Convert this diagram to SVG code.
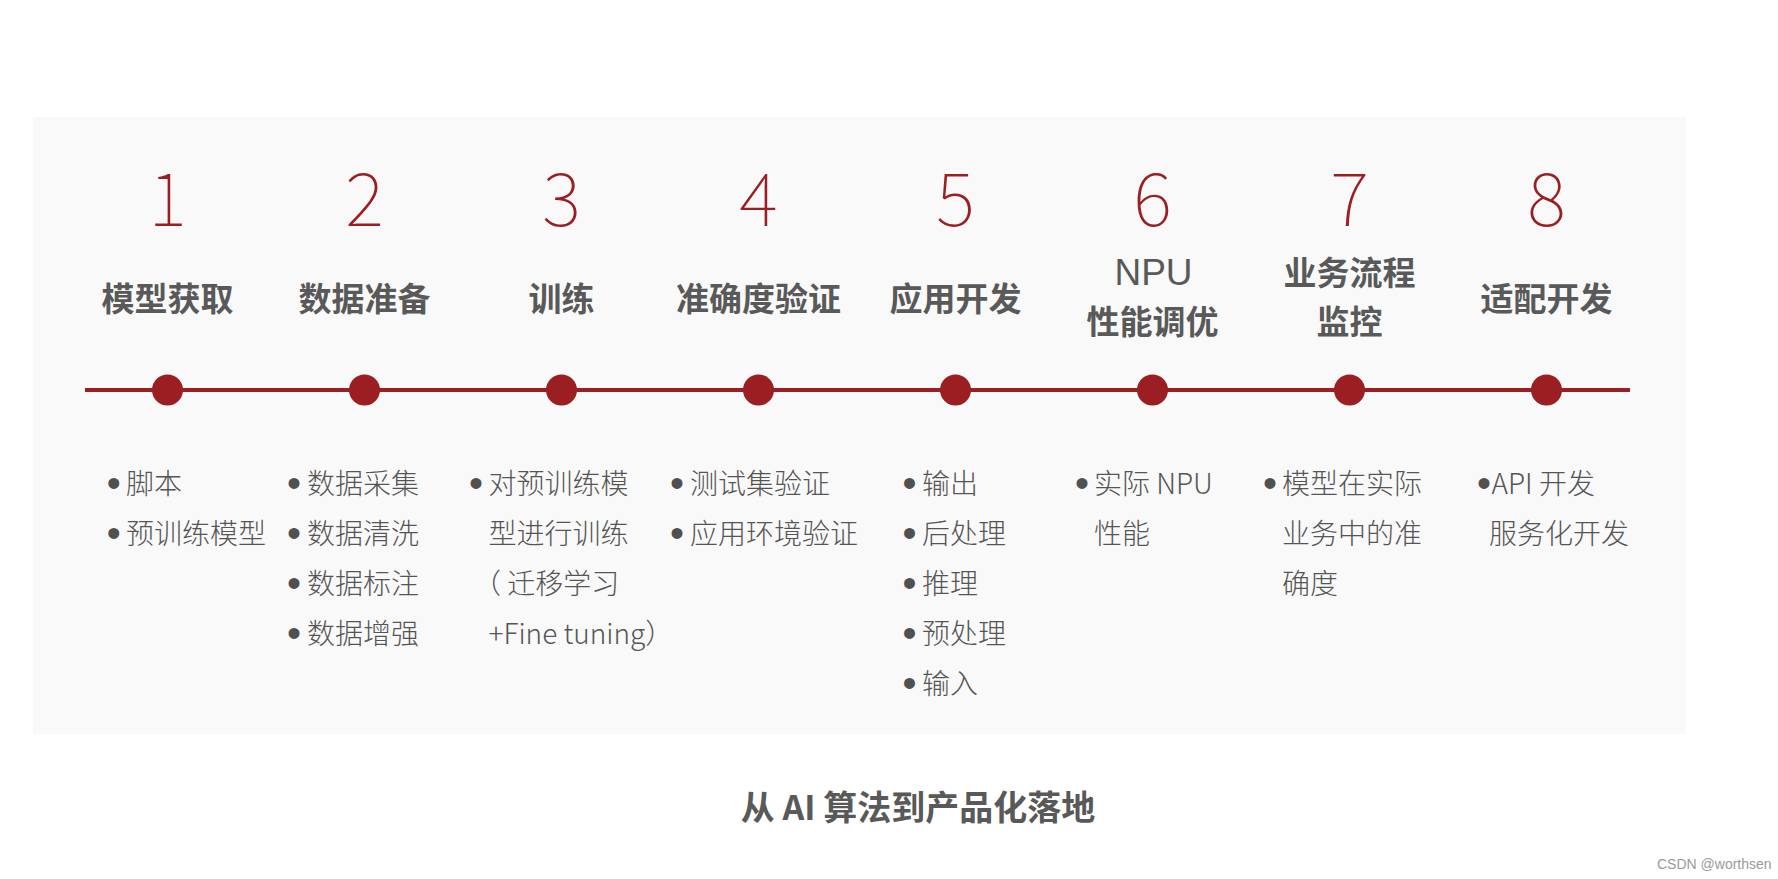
<svg xmlns="http://www.w3.org/2000/svg" width="1778" height="879" viewBox="0 0 1778 879">
<style>
.num{font-family:"Noto Sans CJK SC","Liberation Sans",sans-serif;font-size:74px;font-weight:100;fill:#9b1e22;text-anchor:middle}
.title{font-family:"Noto Sans CJK SC","Liberation Sans",sans-serif;font-size:33px;font-weight:700;fill:#595959;text-anchor:middle}
.npu{font-family:"Liberation Sans","Noto Sans CJK SC",sans-serif;font-size:37px;font-weight:400;fill:#595959;text-anchor:middle}
.item{font-family:"Noto Sans CJK SC","Liberation Sans",sans-serif;font-size:28px;font-weight:300;fill:#555555}
.b{text-anchor:middle;fill:#505050;font-family:"Liberation Sans",sans-serif;font-size:40px;font-weight:400}
.be{text-anchor:end;fill:#505050;font-family:"Liberation Sans",sans-serif;font-size:40px;font-weight:400}
.dot{fill:#9b1e22}
.line{stroke:#9b1e22;stroke-width:4;fill:none}
</style>
<rect x="0" y="0" width="1778" height="879" fill="#ffffff"/>
<rect x="33" y="117" width="1653" height="617" fill="#f9f9f9"/>
<g id="connectors">
<line class="line" x1="85" y1="390" x2="1630" y2="390"/>
</g>
<g id="step1">
<text class="num" x="167.5" y="226">1</text>
<text class="title" x="167.5" y="310.5">模型获取</text>
<circle class="dot" cx="167.5" cy="390" r="15.5"/>
<text class="item"><tspan class="b" x="113.7" y="497">•</tspan><tspan x="126" y="494">脚本</tspan></text>
<text class="item"><tspan class="b" x="113.7" y="547">•</tspan><tspan x="126" y="544">预训练模型</tspan></text>
</g>
<g id="step2">
<text class="num" x="364.5" y="226">2</text>
<text class="title" x="364.5" y="310.5">数据准备</text>
<circle class="dot" cx="364.5" cy="390" r="15.5"/>
<text class="item"><tspan class="b" x="294" y="497">•</tspan><tspan x="307" y="494">数据采集</tspan></text>
<text class="item"><tspan class="b" x="294" y="547">•</tspan><tspan x="307" y="544">数据清洗</tspan></text>
<text class="item"><tspan class="b" x="294" y="597">•</tspan><tspan x="307" y="594">数据标注</tspan></text>
<text class="item"><tspan class="b" x="294" y="647">•</tspan><tspan x="307" y="644">数据增强</tspan></text>
</g>
<g id="step3">
<text class="num" x="561.5" y="226">3</text>
<text class="title" x="561.5" y="310.5">训练</text>
<circle class="dot" cx="561.5" cy="390" r="15.5"/>
<text class="item"><tspan class="b" x="476" y="497">•</tspan><tspan x="488.5" y="494">对预训练模</tspan><tspan x="488.5" y="544">型进行训练</tspan><tspan x="473" y="594">（ 迁移学习</tspan><tspan x="488.5" y="644">+Fine tuning）</tspan></text>
</g>
<g id="step4">
<text class="num" x="758.5" y="226">4</text>
<text class="title" x="758.5" y="310.5">准确度验证</text>
<circle class="dot" cx="758.5" cy="390" r="15.5"/>
<text class="item"><tspan class="b" x="677" y="497">•</tspan><tspan x="690" y="494">测试集验证</tspan></text>
<text class="item"><tspan class="b" x="677" y="547">•</tspan><tspan x="690" y="544">应用环境验证</tspan></text>
</g>
<g id="step5">
<text class="num" x="955.5" y="226">5</text>
<text class="title" x="955.5" y="310.5">应用开发</text>
<circle class="dot" cx="955.5" cy="390" r="15.5"/>
<text class="item"><tspan class="b" x="909.5" y="497">•</tspan><tspan x="922" y="494">输出</tspan></text>
<text class="item"><tspan class="b" x="909.5" y="547">•</tspan><tspan x="922" y="544">后处理</tspan></text>
<text class="item"><tspan class="b" x="909.5" y="597">•</tspan><tspan x="922" y="594">推理</tspan></text>
<text class="item"><tspan class="b" x="909.5" y="647">•</tspan><tspan x="922" y="644">预处理</tspan></text>
<text class="item"><tspan class="b" x="909.5" y="697">•</tspan><tspan x="922" y="694">输入</tspan></text>
</g>
<g id="step6">
<text class="num" x="1152.5" y="226">6</text>
<text class="npu" x="1153.5" y="285">NPU</text>
<text class="title" x="1152.5" y="334">性能调优</text>
<circle class="dot" cx="1152.5" cy="390" r="15.5"/>
<text class="item"><tspan class="b" x="1082" y="497">•</tspan><tspan x="1094" y="494">实际 NPU</tspan><tspan x="1094" y="544">性能</tspan></text>
</g>
<g id="step7">
<text class="num" x="1349.5" y="226">7</text>
<text class="title" x="1349.5" y="284.5">业务流程</text>
<text class="title" x="1349.5" y="334">监控</text>
<circle class="dot" cx="1349.5" cy="390" r="15.5"/>
<text class="item"><tspan class="b" x="1270" y="497">•</tspan><tspan x="1282" y="494">模型在实际</tspan><tspan x="1282" y="544">业务中的准</tspan><tspan x="1282" y="594">确度</tspan></text>
</g>
<g id="step8">
<text class="num" x="1546.5" y="226">8</text>
<text class="title" x="1546.5" y="310.5">适配开发</text>
<circle class="dot" cx="1546.5" cy="390" r="15.5"/>
<text class="item"><tspan class="be" x="1491" y="497">•</tspan><tspan x="1491.5" y="494">API 开发</tspan><tspan x="1489" y="544">服务化开发</tspan></text>
</g>
<text id="caption" class="title" x="918" y="819.5" style="font-size:34px">从 AI 算法到产品化落地</text>
<text id="watermark" x="1657" y="869" font-family="Liberation Sans, sans-serif" font-size="14" fill="#9a9a9a">CSDN @worthsen</text>
</svg>
